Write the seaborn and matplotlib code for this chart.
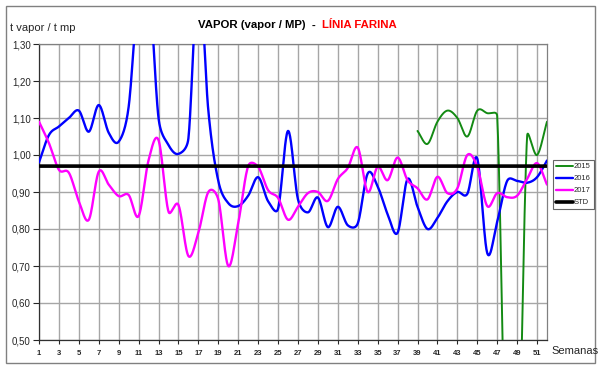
import numpy as np
import pandas as pd
import matplotlib
matplotlib.use("Agg")
import matplotlib.pyplot as plt
from matplotlib.lines import Line2D
from matplotlib.patches import Rectangle
from matplotlib.ticker import FuncFormatter
import seaborn as sns

# --- Data (weekly steam ratio, t vapor / t mp) ---
semanas = list(range(1, 53))
v2015 = [np.nan] * 38 + [1.065, 1.03, 1.09, 1.12, 1.10, 1.05, 1.12, 1.113, 1.105,
                         0.0, 0.0, 1.05, 1.00, 1.09]
v2016 = [0.98, 1.054, 1.077, 1.10, 1.12, 1.063, 1.135, 1.06, 1.036, 1.13,
         1.45, 1.48, 1.10, 1.027, 1.003, 1.045, 1.50, 1.12, 0.93, 0.87,
         0.862, 0.89, 0.94, 0.875, 0.855, 1.065, 0.88, 0.845, 0.885, 0.805,
         0.86, 0.81, 0.815, 0.95, 0.915, 0.84, 0.79, 0.935, 0.86, 0.80,
         0.83, 0.875, 0.90, 0.895, 0.99, 0.735, 0.82, 0.93, 0.93, 0.925,
         0.94, 0.985]
v2017 = [1.09, 1.032, 0.96, 0.952, 0.875, 0.825, 0.955, 0.92, 0.889, 0.892,
         0.835, 0.986, 1.04, 0.847, 0.865, 0.727, 0.79, 0.90, 0.88, 0.70,
         0.816, 0.97, 0.968, 0.905, 0.884, 0.825, 0.86, 0.897, 0.90, 0.876,
         0.935, 0.965, 1.02, 0.90, 0.968, 0.932, 0.993, 0.932, 0.91, 0.88,
         0.941, 0.897, 0.91, 1.0, 0.968, 0.862, 0.897, 0.886, 0.89, 0.935,
         0.978, 0.92]
std_value = 0.97

series = {'2015': v2015, '2016': v2016, '2017': v2017, 'STD': [std_value] * 52}
colors = {'2015': '#138a13', '2016': '#0000ff', '2017': '#ff00ff', 'STD': '#000000'}
widths = {'2015': 1.4, '2016': 1.7, '2017': 1.7, 'STD': 2.6}

# rough screen scale of the plot (px per week, px per unit) used for the smoothing
SX, SY = 10.0, 370.0
ARM_LIMIT = 0.6  # max control arm as a fraction of the adjacent chord


def smooth(x, y, n=24):
    # Excel-like smoothed line: Catmull-Rom Bezier, arms shortened on short chords
    px = np.asarray(x, float) * SX
    py = np.asarray(y, float) * SY
    m = len(px)
    arm_out = np.zeros((m, 2))
    arm_in = np.zeros((m, 2))
    for i in range(m):
        a = max(i - 1, 0)
        b = min(i + 1, m - 1)
        d = np.array([px[b] - px[a], py[b] - py[a]]) / 6.0
        if b - a == 1:
            d = d * 2
        dl = np.hypot(*d)
        if dl == 0:
            continue
        u = d / dl
        if i < m - 1:
            l_out = np.hypot(px[i + 1] - px[i], py[i + 1] - py[i]) * ARM_LIMIT
            arm_out[i] = u * min(dl, l_out)
        if i > 0:
            l_in = np.hypot(px[i] - px[i - 1], py[i] - py[i - 1]) * ARM_LIMIT
            arm_in[i] = u * min(dl, l_in)
    t = np.linspace(0, 1, n, endpoint=False)[:, None]
    pts = []
    for i in range(m - 1):
        p1 = np.array([px[i], py[i]])
        p2 = np.array([px[i + 1], py[i + 1]])
        c1 = p1 + arm_out[i]
        c2 = p2 - arm_in[i + 1]
        pts.append((1 - t) ** 3 * p1 + 3 * (1 - t) ** 2 * t * c1
                   + 3 * (1 - t) * t ** 2 * c2 + t ** 3 * p2)
    pts.append(np.array([[px[-1], py[-1]]]))
    pts = np.vstack(pts)
    return pts[:, 0] / SX, pts[:, 1] / SY


rows = []
for name, vals in series.items():
    s = pd.Series(vals, index=semanas).dropna()
    sx, sy = smooth(s.index, s.values)
    rows.append(pd.DataFrame({'semana': sx, 'valor': sy, 'serie': name}))
df = pd.concat(rows, ignore_index=True)

# --- Plot ---
sns.set_style("white")
plt.rcParams['font.family'] = ['Liberation Sans', 'DejaVu Sans']

fig = plt.figure(figsize=(6.02, 3.74), dpi=100)
ax = fig.add_axes([39 / 602, 1 - 340 / 374, (547 - 39) / 602, (340 - 44) / 374])

sns.lineplot(data=df, x='semana', y='valor', hue='serie', hue_order=list(series),
             palette=colors, size='serie', sizes=widths, size_order=list(series),
             estimator=None, sort=False, legend=False, ax=ax, zorder=3)

ax.set_xlim(1, 52)
ax.set_ylim(0.5, 1.30)
ax.set_xticks(range(1, 52, 2))
ax.set_yticks(np.arange(0.5, 1.31, 0.1))
ax.yaxis.set_major_formatter(FuncFormatter(lambda v, p: f"{v:.2f}".replace('.', ',')))
ax.grid(True, color='#a6a6a6', linewidth=1)
ax.set_axisbelow(True)
ax.tick_params(axis='y', direction='out', length=4, width=0.8, labelsize=7, pad=2, left=True)
ax.tick_params(axis='x', direction='out', length=3, width=0.8, labelsize=5.5, pad=4, bottom=True)
for lab in ax.get_xticklabels():
    lab.set_fontweight('bold')
ax.set_xlabel('')
ax.set_ylabel('')
for side in ['left', 'bottom']:
    ax.spines[side].set_color('#303030')
    ax.spines[side].set_linewidth(0.9)
for side in ['top', 'right']:
    ax.spines[side].set_color('#808080')
    ax.spines[side].set_linewidth(0.9)

# titles and labels
fig.text(0.535, 1 - 25 / 374, 'VAPOR (vapor / MP)  -  ', ha='right', va='center',
         fontsize=8.2, fontweight='bold', color='black')
fig.text(0.535, 1 - 25 / 374, 'LÍNIA FARINA', ha='left', va='center',
         fontsize=8.2, fontweight='bold', color='#ff0000')
fig.text(10 / 602, 1 - 28 / 374, 't vapor / t mp', ha='left', va='center', fontsize=8)
fig.text(551 / 602, 1 - 351 / 374, 'Semanas', ha='left', va='center', fontsize=8)

# legend outside the plot area
handles = [Line2D([], [], color=colors[k], linewidth=widths[k]) for k in series]
leg = fig.legend(handles, list(series), loc='upper left',
                 bbox_to_anchor=(553 / 602, 1 - 160 / 374), fontsize=5.5,
                 frameon=True, fancybox=False, handlelength=2.2, handletextpad=0.1,
                 labelspacing=0.6, borderpad=0.4, borderaxespad=0)
leg.get_frame().set_edgecolor('#404040')
leg.get_frame().set_linewidth(0.8)

# outer chart frame
fig.patches.append(Rectangle((6 / 602, 1 - 363 / 374), 589 / 602, 357 / 374,
                             transform=fig.transFigure, fill=False,
                             edgecolor='#808080', linewidth=1))

plt.savefig('out.png', dpi=100)
